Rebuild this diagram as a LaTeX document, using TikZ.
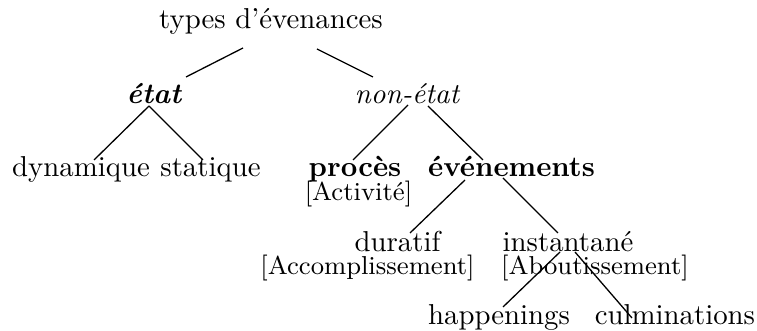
\documentclass[tikz,border=0pt]{standalone}
\usetikzlibrary{positioning}
\begin{document}
\begin{tikzpicture}[x=0.3472pt,y=-0.3472pt,
  lbl/.style={inner sep=0pt,outer sep=0pt,anchor=base},
  sub/.style={lbl,font=\small},
  edge/.style={line width=0.45pt}]
\useasboundingbox (0,0) rectangle (757,331);
\node[lbl] (root) at (271,29) {types d’évenances};
\node[lbl] (etat) at (154.5,104) {\textbf{\textit{état}}};
\node[lbl] (nonetat) at (407.5,104) {\textit{non-état}};
\node[lbl] (dyn) at (81,177) {dynamique};
\node[lbl] (stat) at (210.5,177) {statique};
\node[lbl] (proces) at (355,177) {\textbf{procès}};
\node[sub] (procesL) at (358.5,201) {[Activité]};
\node[lbl] (even) at (511.5,177) {\textbf{événements}};
\node[lbl] (dur) at (397.5,252) {duratif};
\node[sub] (durL) at (367.5,275) {[Accomplissement]};
\node[lbl] (inst) at (568,252) {instantané};
\node[sub] (instL) at (595,275) {[Aboutissement]};
\node[lbl] (happ) at (499,325) {happenings};
\node[lbl] (culm) at (675,325) {culminations};
\draw[edge] ([shift={(-28,19)}]root.base) -- ([shift={(31.5,-27)}]etat.base);
\draw[edge] ([shift={(46,20)}]root.base) -- ([shift={(-34.5,-27)}]nonetat.base);
\draw[edge] ([shift={(-5.5,2)}]etat.base) -- ([shift={(13,-17)}]dyn.base);
\draw[edge] ([shift={(-5.5,2)}]etat.base) -- ([shift={(-7.5,-17)}]stat.base);
\draw[edge] ([shift={(0.5,1)}]nonetat.base) -- ([shift={(-2,-17)}]proces.base);
\draw[edge] ([shift={(20.5,2)}]nonetat.base) -- ([shift={(-28.5,-17)}]even.base);
\draw[edge] ([shift={(-46.5,3)}]even.base) -- ([shift={(12.5,-19)}]dur.base);
\draw[edge] ([shift={(-8.5,1)}]even.base) -- ([shift={(-10,-19)}]inst.base);
\draw[edge] ([shift={(-8,0)}]inst.base) -- ([shift={(4,-18)}]happ.base);
\draw[edge] ([shift={(7,0)}]inst.base) -- ([shift={(-43,-7)}]culm.base);
\end{tikzpicture}
\end{document}
